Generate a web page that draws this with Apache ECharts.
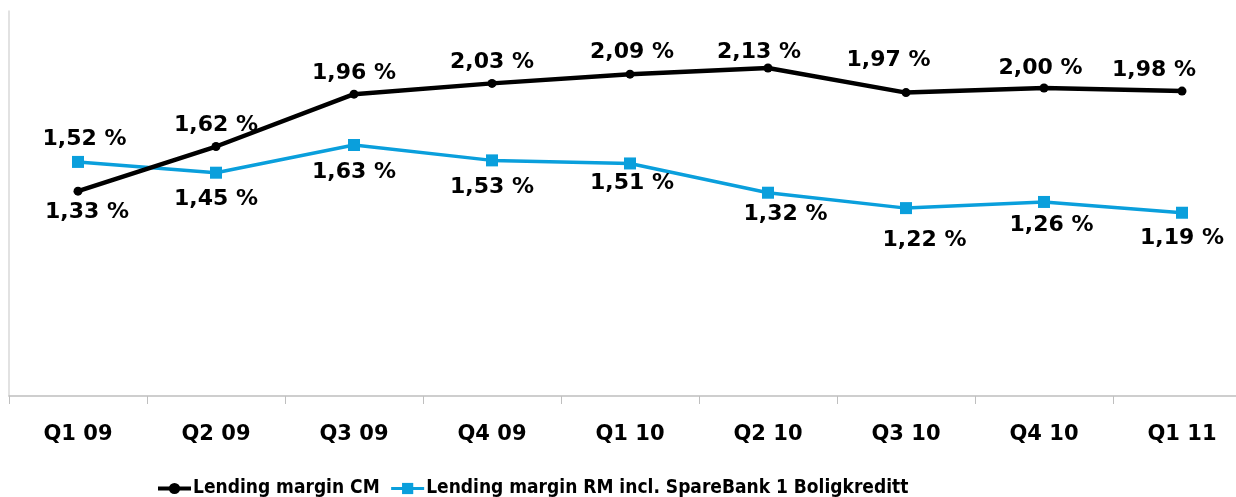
<!DOCTYPE html>
<html>
<head>
<meta charset="utf-8">
<script src="https://cdn.jsdelivr.net/npm/echarts@6/dist/echarts.min.js"></script>
<style>
  html, body { margin: 0; padding: 0; background: #fff; }
  #chart { width: 1236px; height: 497px; }
</style>
</head>
<body>
<div id="chart"></div>
<script>
const quarters = ["Q1 09", "Q2 09", "Q3 09", "Q4 09", "Q1 10", "Q2 10", "Q3 10", "Q4 10", "Q1 11"];
const marginCM = [1.33, 1.62, 1.96, 2.03, 2.09, 2.13, 1.97, 2.00, 1.98];
const marginRM = [1.52, 1.45, 1.63, 1.53, 1.51, 1.32, 1.22, 1.26, 1.19];

// label placement relative to each point (px), the original labels were nudged by hand
const shiftCM = [[9, 21], [0, -21.5], [0, -20.5], [0, -21], [2, -21.5], [-9, -15.5], [-17.5, -32], [-3.5, -19.5], [-28, -20.5]];
const shiftRM = [[6.5, -22.5], [0, 27], [0, 27.5], [0, 26.5], [2, 19.5], [17.5, 21.5], [18.5, 32], [7.5, 23], [0, 25.5]];

const pct = (v) => v.toFixed(2).replace(".", ",") + " %";

const labelFont = {
  fontFamily: "DejaVu Sans",
  fontWeight: "bold",
  fontSize: 22,
  color: "#000",
};

const withLabels = (vals, shifts) =>
  vals.map((v, i) => ({
    value: v,
    label: { position: "inside", offset: shifts[i] },
  }));

const chart = echarts.init(document.getElementById("chart"), null, { renderer: "canvas" });

const option = {
  animation: false,
  grid: { left: 9, top: 11, width: 1242, height: 385, outerBoundsMode: "none" },
  legend: {
    left: 151,
    top: 474,
    itemWidth: 33,
    itemHeight: 14,
    itemGap: 10,
    textStyle: {
      fontFamily: "DejaVu Sans Condensed",
      fontWeight: "bold",
      fontSize: 19,
      color: "#000",
      padding: [0, 0, 0, -3],
    },
    data: [
      { name: "Lending margin CM", lineStyle: { width: 4 }, itemStyle: { borderWidth: 0 } },
      { name: "Lending margin RM incl. SpareBank 1 Boligkreditt", lineStyle: { width: 3 } },
    ],
  },
  xAxis: {
    type: "category",
    data: quarters,
    boundaryGap: true,
    axisLine: { lineStyle: { color: "#bfbfbf", width: 1.5 } },
    axisTick: { show: true, interval: 0, length: 8, lineStyle: { color: "#bfbfbf" } },
    axisLabel: {
      interval: 0,
      margin: 28,
      fontFamily: "DejaVu Sans",
      fontWeight: "bold",
      fontSize: 21,
      color: "#000",
    },
  },
  yAxis: {
    type: "value",
    min: 0,
    max: 2.5,
    axisLine: { show: true, lineStyle: { color: "#d9d9d9", width: 1.5 } },
    axisTick: { show: false },
    axisLabel: { show: false },
    splitLine: { show: false },
  },
  series: [
    {
      name: "Lending margin RM incl. SpareBank 1 Boligkreditt",
      type: "line",
      data: withLabels(marginRM, shiftRM),
      symbol: "rect",
      symbolSize: 12,
      color: "#0a9fdc",
      lineStyle: { color: "#0a9fdc", width: 3.5 },
      itemStyle: { color: "#0a9fdc" },
      label: { show: true, formatter: (p) => pct(p.value), ...labelFont },
      z: 2,
    },
    {
      name: "Lending margin CM",
      type: "line",
      data: withLabels(marginCM, shiftCM),
      symbol: "circle",
      symbolSize: 9,
      color: "#000",
      lineStyle: { color: "#000", width: 4.5 },
      itemStyle: { color: "#000" },
      label: { show: true, formatter: (p) => pct(p.value), ...labelFont },
      z: 3,
    },
  ],
};

chart.setOption(option);
</script>
</body>
</html>
